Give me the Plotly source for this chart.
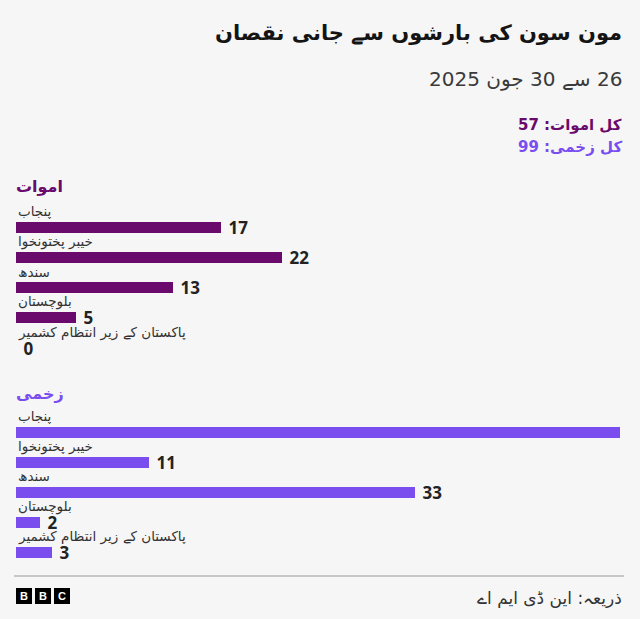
import plotly.graph_objects as go

regions = ["پنجاب", "خیبر پختونخوا", "سندھ", "بلوچستان", "پاکستان کے زیر انتظام کشمیر"]
deaths = [17, 22, 13, 5, 0]
injured = [50, 11, 33, 2, 3]

title = "مون سون کی بارشوں سے جانی نقصان"
subtitle = "26 سے 30 جون 2025"
total_deaths_label = "کل اموات: 57"
total_injured_label = "کل زخمی: 99"
deaths_heading = "اموات"
injured_heading = "زخمی"
source = "ذریعہ: این ڈی ایم اے"

W, H = 640, 619
X_MAX = 50
C_DEATH = "#6A0A6C"
C_INJ = "#7A4EEE"
BG = "#F6F6F6"
URDU = "DejaVu Sans, Noto Sans"
NUM = "Noto Sans, DejaVu Sans"
RLE, PDF = "\u202B", "\u202C"

death_y = [227 + 30.3 * i for i in range(len(regions))]
inj_y = [432 + 30 * i for i in range(len(regions))]

fig = go.Figure()
for vals, ys, col in [(deaths, death_y, C_DEATH), (injured, inj_y, C_INJ)]:
    # a bar that fills the whole width leaves no room for its label (as in the original)
    labels = ["" if v >= X_MAX else "\u00a0" + str(v) for v in vals]
    fig.add_trace(go.Bar(
        x=vals, y=ys, orientation="h", width=11,
        marker=dict(color=col, line=dict(width=0)),
        text=labels, textposition="outside", constraintext="none",
        textfont=dict(family=NUM, size=17, color="#222222", weight="bold"),
        cliponaxis=True, hoverinfo="skip", showlegend=False,
    ))

anns = []
for ys in (death_y, inj_y):
    for name, y in zip(regions, ys):
        anns.append(dict(x=0, y=y - 16, xref="x", yref="y", text=name, showarrow=False,
                         xanchor="left", yanchor="middle",
                         font=dict(family=URDU, size=13.5, color="#333333")))

def pa(x, y, text, size, color, anchor="right", bold=False, fam=URDU):
    t = RLE + text + PDF
    if bold:
        t = f"<b>{t}</b>"
    anns.append(dict(x=x / W, y=1 - y / H, xref="paper", yref="paper", text=t, showarrow=False,
                     xanchor=anchor, yanchor="middle", font=dict(family=fam, size=size, color=color)))

pa(624, 33, title, 21, "#141414", bold=True)
pa(624, 79, subtitle, 20, "#3A3A3A")
pa(624, 125, total_deaths_label, 15, C_DEATH, bold=True)
pa(624, 147, total_injured_label, 15, C_INJ, bold=True)
pa(14, 186, deaths_heading, 16, C_DEATH, anchor="left", bold=True)
pa(14, 393, injured_heading, 16, C_INJ, anchor="left", bold=True)
pa(624, 598, source, 17, "#333333")

shapes = [dict(type="line", xref="paper", yref="paper", x0=14 / W, x1=624 / W,
               y0=1 - 576 / H, y1=1 - 576 / H, line=dict(color="#999999", width=1))]
for i, ch in enumerate("BBC"):
    x0 = 16 + i * 19
    shapes.append(dict(type="rect", xref="paper", yref="paper", x0=x0 / W, x1=(x0 + 16) / W,
                       y0=1 - 604 / H, y1=1 - 588 / H, fillcolor="#000000", line=dict(width=0)))
    anns.append(dict(x=(x0 + 8) / W, y=1 - 596 / H, xref="paper", yref="paper", text=f"<b>{ch}</b>",
                     showarrow=False, xanchor="center", yanchor="middle",
                     font=dict(family="Liberation Sans, Arial", size=11, color="#FFFFFF")))

fig.update_layout(
    width=W, height=H, margin=dict(l=0, r=0, t=0, b=0),
    paper_bgcolor=BG, plot_bgcolor=BG,
    xaxis=dict(domain=[16 / W, 620 / W], range=[0, X_MAX], visible=False, fixedrange=True),
    yaxis=dict(domain=[0, 1], range=[H, 0], visible=False, fixedrange=True),
    annotations=anns, shapes=shapes, bargap=0,
)
fig.write_html("out.html", config={"displayModeBar": False},
               post_script="document.body.style.margin='0';document.body.style.background='#F6F6F6';")
